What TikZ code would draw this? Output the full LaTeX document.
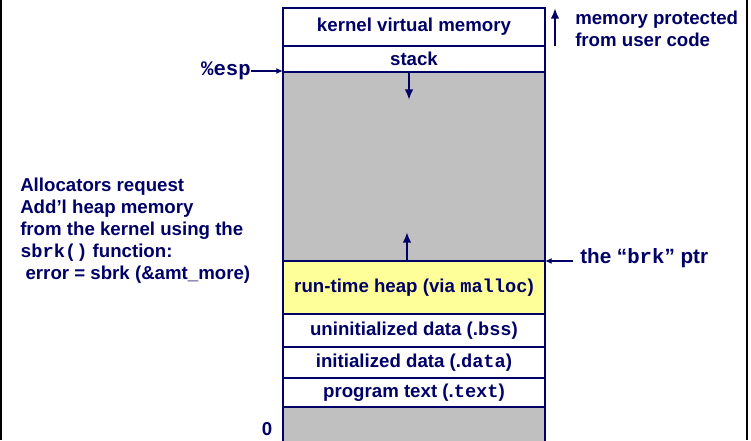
\documentclass[tikz,border=0pt]{standalone}
\usepackage{fontspec}
\setmainfont{Liberation Sans}
\setmonofont{Liberation Mono}
\usetikzlibrary{arrows.meta,positioning}
\definecolor{navy}{RGB}{0,0,102}
\definecolor{heapyellow}{RGB}{255,255,153}
\definecolor{freegray}{RGB}{192,192,192}

\begin{document}
\begin{tikzpicture}[
  x=0.75pt, y=-0.75pt,
  seg/.style={draw=navy, line width=1.5pt, minimum width=196.5pt,
              inner sep=0pt, outer sep=0pt, text=navy,
              font=\bfseries\fontsize{14}{16}\selectfont},
  note/.style={text=navy, inner sep=0pt, align=left,
               font=\bfseries\fontsize{14}{16.5}\selectfont},
  growarrow/.style={-{Latex[length=8pt,width=6.5pt]}, line width=2.2pt, navy},
  ptr/.style={-{Latex[length=5pt,width=4.5pt]}, line width=1.4pt, navy}
]
  \useasboundingbox (0,0) rectangle (751,440);
  \draw[line width=1.5pt] (1,0) -- (1,440);
  \draw[line width=1.5pt] (747,0) -- (747,440);

  % address space, top to bottom
  \node[seg, minimum height=28.5pt] (kern) at (414,27) {kernel virtual memory};
  \node[seg, minimum height=19.5pt, below=0pt of kern] (stack) {stack};
  \node[seg, minimum height=141.75pt, fill=freegray, below=0pt of stack] (free) {};
  \node[seg, minimum height=39.75pt, fill=heapyellow, below=0pt of free] (heap)
    {run-time heap (via \texttt{malloc})};
  \node[seg, minimum height=24.75pt, below=0pt of heap] (bss)
    {uninitialized data (.\texttt{bss})};
  \node[seg, minimum height=23.25pt, below=0pt of bss] (data)
    {initialized data (.\texttt{data})};
  \node[seg, minimum height=21.75pt, below=0pt of data] (text)
    {program text (.\texttt{text})};
  \node[seg, minimum height=28.5pt, fill=freegray, below=0pt of text] (unused) {};

  \node[note] (zero) at (267,429) {0};

  % growth arrows
  \coordinate (stktop) at ([xshift=-3.75pt]stack.south);
  \coordinate (stkend) at ([xshift=-3.75pt,yshift=-21pt]stack.south);
  \draw[growarrow] (stktop) -- (stkend);
  \coordinate (heaptop) at ([xshift=-5.25pt]heap.north);
  \coordinate (heapend) at ([xshift=-5.25pt,yshift=21.75pt]heap.north);
  \draw[growarrow] (heaptop) -- (heapend);

  % protected region
  \draw[growarrow] ([xshift=7.5pt]kern.south east) -- ([xshift=7.5pt]kern.north east);
  \node[note, anchor=west] (prot) at (575,29) {memory protected\\from user code};

  % pointers
  \node[note, anchor=east, font=\bfseries\fontsize{15.5}{18}\selectfont] (esp)
    at (251,71) {\texttt{\%esp}};
  \draw[ptr] (esp.east) -- (esp.east -| stack.south west);
  \node[note, anchor=west, font=\bfseries\fontsize{15.5}{18}\selectfont] (brk)
    at (580,258) {the “\texttt{brk}” ptr};
  \coordinate (brktail) at (573,261);
  \draw[ptr] (brktail) -- (heap.north east);

  % explanation
  \node[note, anchor=west] (alloc) at (20,230.5)
    {Allocators request\\Add’l heap memory\\from the kernel using the\\
     \texttt{sbrk()} function:\\\hspace*{4pt}error = sbrk (\&amt\_more)};
\end{tikzpicture}
\end{document}
